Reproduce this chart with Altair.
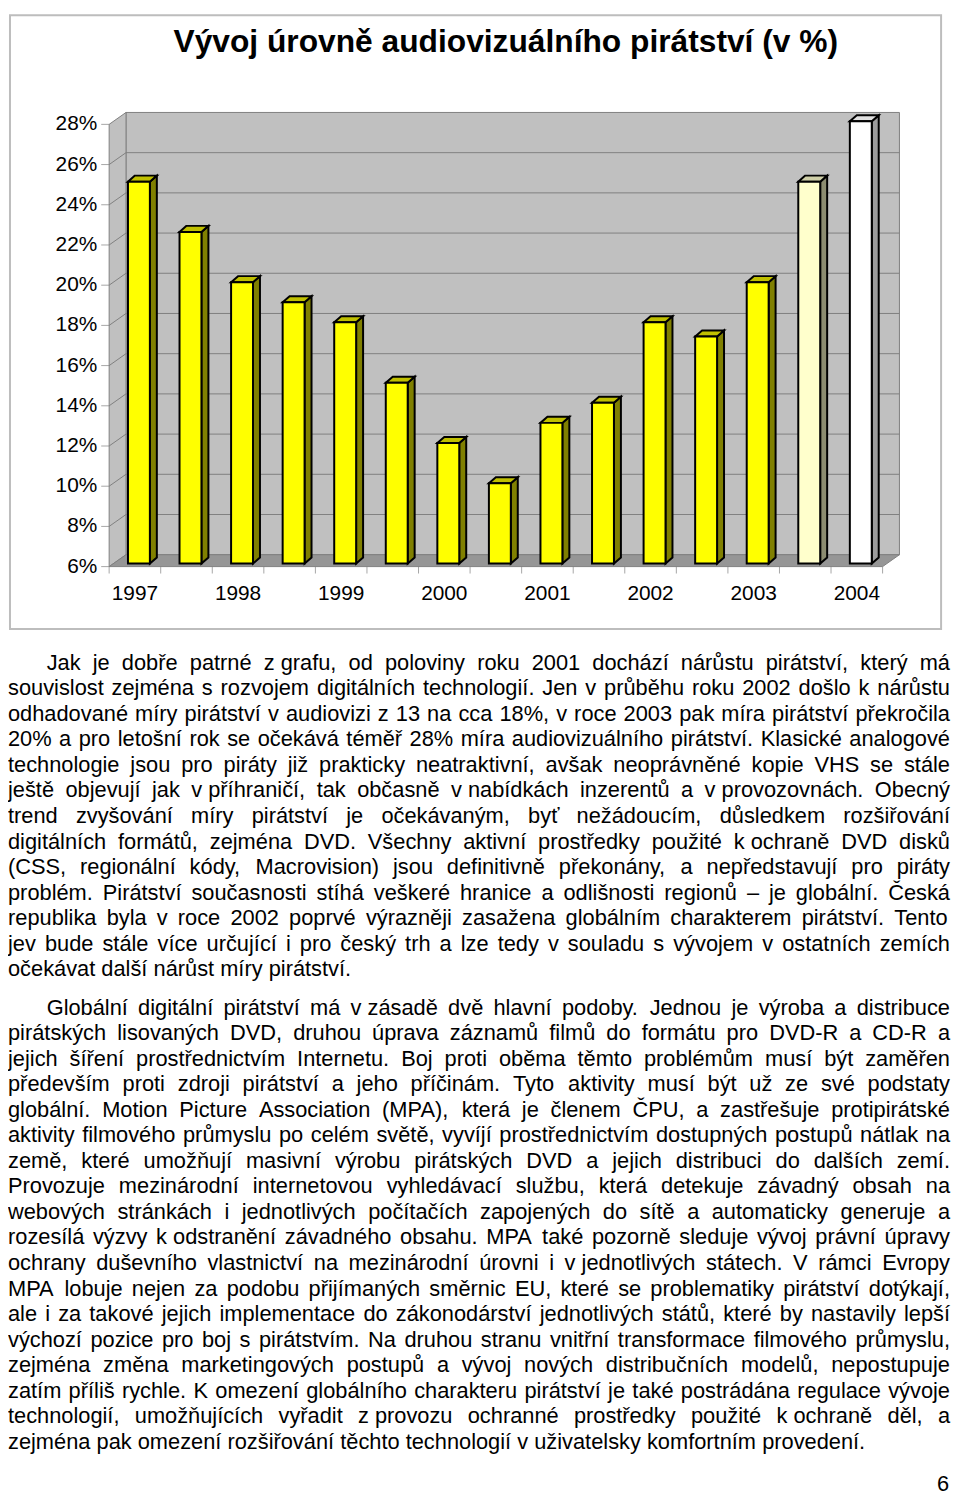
import unicodedata
import altair as alt
import pandas as pd

# ---------------- data ----------------
title_text = "Vývoj úrovně audiovizuálního pirátství (v %)"
year_labels = ["1997", "1998", "1999", "2000", "2001", "2002", "2003", "2004"]
bar_index = list(range(15))  # half-year steps 1997 ... 2004
bar_values = [25, 22.5, 20, 19, 18, 15, 12, 10, 13, 14, 18, 17.3, 20, 25, 28]
bar_kinds = ["skutečnost"] * 13 + ["odhad", "prognóza"]
y_tick_values = [6, 8, 10, 12, 14, 16, 18, 20, 22, 24, 26, 28]
y_tick_labels = ["6%", "8%", "10%", "12%", "14%", "16%", "18%", "20%", "22%", "24%", "26%", "28%"]

paragraph1 = [
    "Jak je dobře patrné z~grafu, od poloviny roku 2001 dochází nárůstu pirátství, který má",
    "souvislost zejména s rozvojem digitálních technologií. Jen v průběhu roku 2002 došlo k nárůstu",
    "odhadované míry pirátství v audiovizi z 13 na cca 18%, v roce 2003 pak míra pirátství překročila",
    "20% a pro letošní rok se očekává téměř 28% míra audiovizuálního pirátství. Klasické analogové",
    "technologie jsou pro piráty již prakticky neatraktivní, avšak neoprávněné kopie VHS se stále",
    "ještě objevují jak v~příhraničí, tak občasně v~nabídkách inzerentů a v~provozovnách. Obecný",
    "trend zvyšování míry pirátství je očekávaným, byť nežádoucím, důsledkem rozšiřování",
    "digitálních formátů, zejména DVD. Všechny aktivní prostředky použité k~ochraně DVD disků",
    "(CSS, regionální kódy, Macrovision) jsou definitivně překonány, a nepředstavují pro piráty",
    "problém. Pirátství současnosti stíhá veškeré hranice a odlišnosti regionů – je globální. Česká",
    "republika byla v roce 2002 poprvé výrazněji zasažena globálním charakterem pirátství. Tento",
    "jev bude stále více určující i pro český trh a lze tedy v souladu s vývojem v ostatních zemích",
    "očekávat další nárůst míry pirátství.",
]
paragraph2 = [
    "Globální digitální pirátství má v~zásadě dvě hlavní podoby. Jednou je výroba a distribuce",
    "pirátských lisovaných DVD, druhou úprava záznamů filmů do formátu pro DVD-R a CD-R a",
    "jejich šíření prostřednictvím Internetu. Boj proti oběma těmto problémům musí být zaměřen",
    "především proti zdroji pirátství a jeho příčinám. Tyto aktivity musí být už ze své podstaty",
    "globální. Motion Picture Association (MPA), která je členem ČPU, a zastřešuje protipirátské",
    "aktivity filmového průmyslu po celém světě, vyvíjí prostřednictvím dostupných postupů nátlak na",
    "země, které umožňují masivní výrobu pirátských DVD a jejich distribuci do dalších zemí.",
    "Provozuje mezinárodní internetovou vyhledávací službu, která detekuje závadný obsah na",
    "webových stránkách i jednotlivých počítačích zapojených do sítě a automaticky generuje a",
    "rozesílá výzvy k~odstranění závadného obsahu. MPA také pozorně sleduje vývoj právní úpravy",
    "ochrany duševního vlastnictví na mezinárodní úrovni i v~jednotlivých státech. V rámci Evropy",
    "MPA lobuje nejen za podobu přijímaných směrnic EU, které se problematiky pirátství dotýkají,",
    "ale i za takové jejich implementace do zákonodárství jednotlivých států, které by nastavily lepší",
    "výchozí pozice pro boj s pirátstvím. Na druhou stranu vnitřní transformace filmového průmyslu,",
    "zejména změna marketingových postupů a vývoj nových distribučních modelů, nepostupuje",
    "zatím příliš rychle. K omezení globálního charakteru pirátství je také postrádána regulace vývoje",
    "technologií, umožňujících vyřadit z~provozu ochranné prostředky použité k~ochraně děl, a",
    "zejména pak omezení rozšiřování těchto technologií v uživatelsky komfortním provedení.",
]
page_number = "6"

# ---------------- layout / style constants ----------------
W, H = 952, 1497
FONT = "Liberation Sans"
BODY_SIZE = 22
TEXT_RIGHT = 950
INDENT = 39

WALL_DX, WALL_DY = 0.327, 0.592      # 3-D depth of the chart walls (data units)
BAR_X0, BAR_X1 = 0.365, 0.79          # front face of a bar inside its slot
BAR_DX, BAR_DY = 0.135, 0.30          # 3-D depth of a bar
BAR_LIFT = 0.15

XS = alt.Scale(domain=[0, 15], range=[102, 882], nice=False, zero=False)
YS = alt.Scale(domain=[6, 28], range=[557, 111], nice=False, zero=False)
TXS = alt.Scale(domain=[0, 950], range=[0, 950], nice=False, zero=False)
TYS = alt.Scale(domain=[0, 30.5], range=[661, 1446.7], nice=False, zero=False)

kind_domain = ["skutečnost", "odhad", "prognóza"]
front_colors = ["#FFFF00", "#FFFFCC", "#FFFFFF"]
side_colors = ["#808000", "#8C8C70", "#9C9C9C"]
top_colors = ["#C0C000", "#CFCFA8", "#E0E0E0"]

# ---------------- text metrics (Arial / Liberation Sans advance widths) ----------------
_HELV = {' ': 278, '\u00a0': 278, '!': 278, '"': 355, '%': 889, "'": 191, '(': 333, ')': 333,
         ',': 278, '-': 333, '.': 278, '/': 278, ':': 278, ';': 278, '?': 556, '–': 556,
         'A': 667, 'B': 667, 'C': 722, 'D': 722, 'E': 667, 'F': 611, 'G': 778, 'H': 722,
         'I': 278, 'J': 500, 'K': 667, 'L': 556, 'M': 833, 'N': 722, 'O': 778, 'P': 667,
         'Q': 778, 'R': 722, 'S': 667, 'T': 611, 'U': 722, 'V': 667, 'W': 944, 'X': 667,
         'Y': 667, 'Z': 611,
         'a': 556, 'b': 556, 'c': 500, 'd': 556, 'e': 556, 'f': 278, 'g': 556, 'h': 556,
         'i': 222, 'j': 222, 'k': 500, 'l': 222, 'm': 833, 'n': 556, 'o': 556, 'p': 556,
         'q': 556, 'r': 333, 's': 500, 't': 278, 'u': 556, 'v': 500, 'w': 722, 'x': 500,
         'y': 500, 'z': 500}
for d in "0123456789":
    _HELV[d] = 556
_SPECIAL = {'í': 278, 'ť': 333, 'ď': 615}


def char_w(c):
    if c in _SPECIAL:
        return _SPECIAL[c]
    if c in _HELV:
        return _HELV[c]
    base = unicodedata.normalize("NFD", c)[0]
    return _HELV.get(base, 556)


def word_w(w):
    return sum(char_w(c) for c in w) * BODY_SIZE / 1000.0


rows = []
line_no = 0
for p_i, par in enumerate([paragraph1, paragraph2]):
    for l_i, line in enumerate(par):
        pos = line_no + 0.5 * p_i
        words = [w.replace("~", "\u00a0") for w in line.split(" ")]
        widths = [word_w(w) for w in words]
        left = INDENT if l_i == 0 else 0
        justified = l_i < len(par) - 1
        if justified and len(words) > 1:
            gap = max((TEXT_RIGHT - left - sum(widths)) / (len(words) - 1), 2.0)
        else:
            gap = _HELV[' '] * BODY_SIZE / 1000.0
        x = left
        for w, ww in zip(words, widths):
            rows.append({"word": w, "x": x, "pos": pos})
            x += ww + gap
        line_no += 1
words_df = pd.DataFrame(rows)

# ---------------- chart geometry tables ----------------
one = pd.DataFrame({"a": [0]})
side_wall = pd.DataFrame({"x": [0, WALL_DX], "y": [28, 28 + WALL_DY], "y2": [6, 6 + WALL_DY]})
floor = pd.DataFrame({"y": [6, 6 + WALL_DY], "x": [0, WALL_DX], "x2": [15, 15 + WALL_DX]})
back = pd.DataFrame({"x": [WALL_DX], "x2": [15 + WALL_DX], "y": [6 + WALL_DY], "y2": [28 + WALL_DY]})
grid_rows = []
for v in y_tick_values[1:-1]:
    grid_rows += [{"t": v, "o": 0, "x": 0, "y": v},
                  {"t": v, "o": 1, "x": WALL_DX, "y": v + WALL_DY},
                  {"t": v, "o": 2, "x": 15 + WALL_DX, "y": v + WALL_DY}]
grid = pd.DataFrame(grid_rows)

bars = pd.DataFrame({"i": bar_index, "v": bar_values, "kind": bar_kinds})
bars["x0"] = bars["i"] + BAR_X0
bars["x1"] = bars["i"] + BAR_X1
bars["yt"] = bars["v"] + BAR_LIFT
bars["yb"] = 6 + BAR_LIFT

side_rows, top_rows = [], []
for i, v, k in zip(bar_index, bar_values, bar_kinds):
    side_rows += [{"bar": i, "kind": k, "x": i + BAR_X1, "yt": v + BAR_LIFT, "yb": 6 + BAR_LIFT},
                  {"bar": i, "kind": k, "x": i + BAR_X1 + BAR_DX, "yt": v + BAR_LIFT + BAR_DY,
                   "yb": 6 + BAR_LIFT + BAR_DY}]
    top_rows += [{"bar": i, "kind": k, "y": v + BAR_LIFT, "x": i + BAR_X0, "x2": i + BAR_X1},
                 {"bar": i, "kind": k, "y": v + BAR_LIFT + BAR_DY, "x": i + BAR_X0 + BAR_DX,
                  "x2": i + BAR_X1 + BAR_DX}]
bar_sides = pd.DataFrame(side_rows)
bar_tops = pd.DataFrame(top_rows)

yt_df = pd.DataFrame({"v": y_tick_values, "label": y_tick_labels})
xt_df = pd.DataFrame({"x": list(range(16))})
xl_df = pd.DataFrame({"x": [2 * k + 0.5 for k in range(len(year_labels))], "label": year_labels})


def X(f, **kw):
    return alt.X(f, scale=XS, axis=None, **kw)


def Y(f, **kw):
    return alt.Y(f, scale=YS, axis=None, **kw)


def kind_color(rng):
    return alt.Color("kind:N", scale=alt.Scale(domain=kind_domain, range=rng), legend=None)


layers = []
# frame
layers.append(alt.Chart(one).mark_rect(fill="transparent", stroke="#BDBDBD", strokeWidth=2).encode(
    x=alt.value(2), x2=alt.value(941), y=alt.value(1), y2=alt.value(620)))
# title
layers.append(alt.Chart(one).mark_text(text=title_text, font=FONT, fontSize=32, fontWeight="bold",
                                       align="center", baseline="alphabetic", color="black").encode(
    x=alt.value(502), y=alt.value(38)))
# walls
layers.append(alt.Chart(back).mark_rect(fill="#C0C0C0", stroke="#808080", strokeWidth=1).encode(
    x=X("x:Q"), x2="x2", y=Y("y:Q"), y2="y2"))
layers.append(alt.Chart(side_wall).mark_area(fill="#C0C0C0", stroke="#808080", strokeWidth=1,
                                             orient="vertical").encode(
    x=X("x:Q"), y=Y("y:Q"), y2="y2"))
layers.append(alt.Chart(floor).mark_area(fill="#969696", stroke="#808080", strokeWidth=1,
                                         orient="horizontal").encode(
    y=Y("y:Q"), x=X("x:Q"), x2="x2"))
layers.append(alt.Chart(grid).mark_line(color="#808080", strokeWidth=1).encode(
    x=X("x:Q"), y=Y("y:Q"), detail="t:N", order="o:Q"))
# bars
layers.append(alt.Chart(bar_sides).mark_area(stroke="black", strokeWidth=2, strokeJoin="miter",
                                             orient="vertical").encode(
    x=X("x:Q"), y=Y("yt:Q"), y2="yb", detail="bar:N", color=kind_color(side_colors)))
layers.append(alt.Chart(bar_tops).mark_area(stroke="black", strokeWidth=2, strokeJoin="miter",
                                            orient="horizontal").encode(
    y=Y("y:Q"), x=X("x:Q"), x2="x2", detail="bar:N", color=kind_color(top_colors)))
layers.append(alt.Chart(bars).mark_rect(stroke="black", strokeWidth=2).encode(
    x=X("x0:Q"), x2="x1", y=Y("yt:Q"), y2="yb", color=kind_color(front_colors)))
# axes (drawn with the same scales)
layers.append(alt.Chart(yt_df).mark_tick(orient="horizontal", size=8, thickness=1, color="#808080",
                                         xOffset=-4).encode(
    x=alt.X(datum=0, scale=XS, axis=None), y=Y("v:Q")))
layers.append(alt.Chart(yt_df).mark_text(font=FONT, fontSize=21, align="right", baseline="middle",
                                         dx=-12, color="black").encode(
    x=alt.X(datum=0, scale=XS, axis=None), y=Y("v:Q"), text="label:N"))
layers.append(alt.Chart(xt_df).mark_tick(orient="vertical", size=7, thickness=1, color="#808080",
                                         yOffset=3.5).encode(
    x=X("x:Q"), y=alt.Y(datum=6, scale=YS, axis=None)))
layers.append(alt.Chart(xl_df).mark_text(font=FONT, fontSize=21, align="center", baseline="alphabetic",
                                         dy=34, color="black").encode(
    x=X("x:Q"), y=alt.Y(datum=6, scale=YS, axis=None), text="label:N"))
# body text
layers.append(alt.Chart(words_df).mark_text(font=FONT, fontSize=BODY_SIZE, align="left",
                                            baseline="alphabetic", color="black").encode(
    x=alt.X("x:Q", scale=TXS, axis=None), y=alt.Y("pos:Q", scale=TYS, axis=None), text="word:N"))
layers.append(alt.Chart(one).mark_text(text=page_number, font=FONT, fontSize=BODY_SIZE, align="right",
                                       baseline="alphabetic", color="black").encode(
    x=alt.X(datum=949, scale=TXS, axis=None), y=alt.Y(datum=32.15, scale=TYS, axis=None)))

chart = alt.layer(*layers).resolve_scale(
    x="independent", y="independent", color="independent"
).properties(
    width=W, height=H, padding=0, autosize=alt.AutoSizeParams(type="none")
).configure_view(stroke=None)

chart.save("out.html", embed_options={"renderer": "svg", "actions": False})
